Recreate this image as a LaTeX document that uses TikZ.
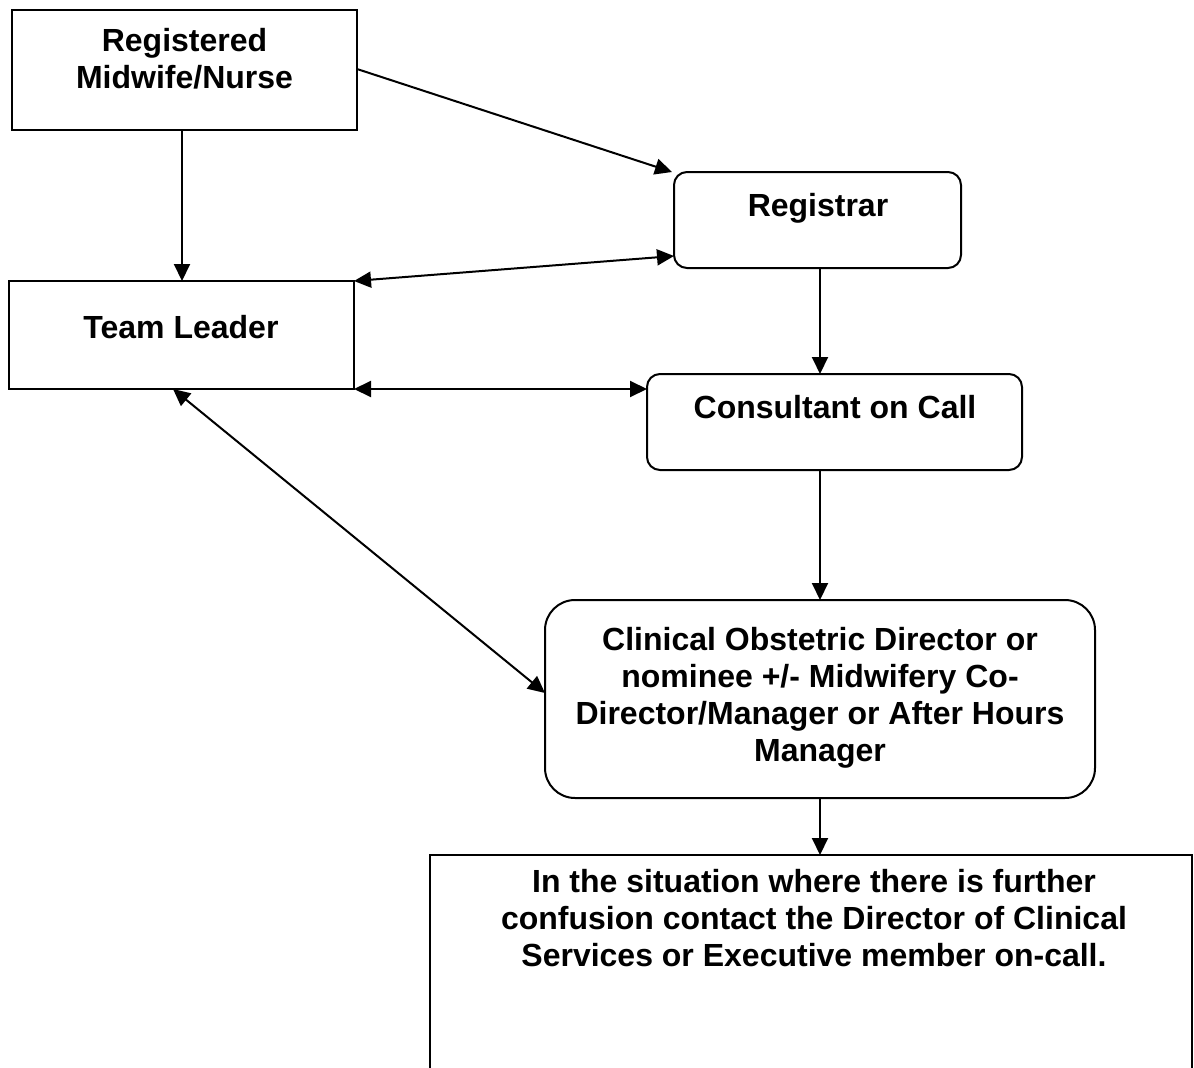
\documentclass[tikz,border=0pt]{standalone}
\usepackage{fontspec}
\setmainfont{Liberation Sans}
\usetikzlibrary{arrows.meta}
\begin{document}
\begin{tikzpicture}[x=1pt,y=-1pt,
  box/.style={draw, line width=2pt, inner sep=0pt, outer sep=0pt},
  rbox/.style={box, rounded corners=13pt},
  txt/.style={font=\fontsize{32}{37}\selectfont\bfseries, align=center, inner sep=0pt},
  tip/.style={Triangle[length=17pt,width=16pt]},
  link/.style={line width=2pt, -{Triangle[length=17pt,width=16pt]}},
  dlink/.style={line width=2pt, {Triangle[length=17pt,width=16pt]}-{Triangle[length=17pt,width=16pt]}}]
\useasboundingbox (0,0) rectangle (1194,1068);
% boxes
\node[box, minimum width=345pt, minimum height=120pt] (rm) at (184.5,70) {};
\node[box, minimum width=345pt, minimum height=108pt] (tl) at (181.5,335) {};
\node[rbox, minimum width=287pt, minimum height=96pt] (reg) at (817.5,220) {};
\node[rbox, minimum width=375pt, minimum height=96pt] (con) at (834.5,422) {};
\node[box, rounded corners=30pt, minimum width=550pt, minimum height=198pt] (cod) at (820,699) {};
\node[box, minimum width=762pt, minimum height=260pt] (fin) at (811,985) {};
% texts
\node[txt, anchor=north] (rmt) at (184.5,28) {Registered\\Midwife/Nurse};
\node[txt, anchor=base] (tlt) at (181,338) {Team Leader};
\node[txt, anchor=base] (regt) at (818,216) {Registrar};
\node[txt, anchor=base] (cont) at (835,418) {Consultant on Call};
\node[txt, anchor=north] (codt) at (820,627) {Clinical Obstetric Director or\\nominee +/- Midwifery Co-\\Director/Manager or After Hours\\Manager};
\node[txt, anchor=north] (fint) at (814,869) {In the situation where there is further\\confusion contact the Director of Clinical\\Services or Executive member on-call.};
% connectors
\draw[link] (rm.south -| 182,0) -- (tl.north -| 182,0);
\draw[link] (rm.east |- 0,69) -- ([xshift=-2pt]reg.north west);
\draw[dlink] (tl.north east) -- ([yshift=12pt]reg.south west);
\draw[link] (reg.south -| 820,0) -- (con.north -| 820,0);
\draw[dlink] (tl.south east) -- (con.west |- 0,389);
\draw[dlink] (tl.south -| 173,0) -- (cod.west |- 0,693);
\draw[link] (con.south -| 820,0) -- (cod.north -| 820,0);
\draw[link] (cod.south -| 820,0) -- (fin.north -| 820,0);
\end{tikzpicture}
\end{document}
